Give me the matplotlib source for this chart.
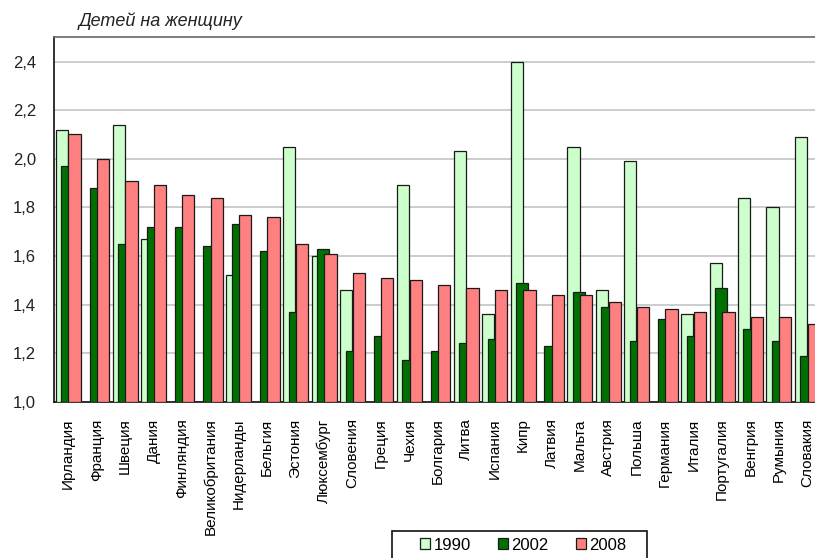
import numpy as np
import matplotlib.pyplot as plt
from matplotlib.patches import Rectangle
from matplotlib.ticker import FuncFormatter

# Total fertility rate, children per woman
countries = ['Ирландия', 'Франция', 'Швеция', 'Дания', 'Финляндия', 'Великобритания',
             'Нидерланды', 'Бельгия', 'Эстония', 'Люксембург', 'Словения', 'Греция',
             'Чехия', 'Болгария', 'Литва', 'Испания', 'Кипр', 'Латвия', 'Мальта',
             'Австрия', 'Польша', 'Германия', 'Италия', 'Португалия', 'Венгрия',
             'Румыния', 'Словакия']
nan = np.nan
tfr_1990 = [2.12, nan, 2.14, 1.67, nan, nan, 1.52, nan, 2.05, 1.60, 1.46, nan,
            1.89, nan, 2.03, 1.36, 2.40, nan, 2.05, 1.46, 1.99, nan, 1.36, 1.57,
            1.84, 1.80, 2.09]
tfr_2002 = [1.97, 1.88, 1.65, 1.72, 1.72, 1.64, 1.73, 1.62, 1.37, 1.63, 1.21, 1.27,
            1.17, 1.21, 1.24, 1.26, 1.49, 1.23, 1.45, 1.39, 1.25, 1.34, 1.27, 1.47,
            1.30, 1.25, 1.19]
tfr_2008 = [2.10, 2.00, 1.91, 1.89, 1.85, 1.84, 1.77, 1.76, 1.65, 1.61, 1.53, 1.51,
            1.50, 1.48, 1.47, 1.46, 1.46, 1.44, 1.44, 1.41, 1.39, 1.38, 1.37, 1.37,
            1.35, 1.35, 1.32]
years = ['1990', '2002', '2008']

plt.rcParams['font.family'] = ['Liberation Sans', 'DejaVu Sans']

fig = plt.figure(figsize=(8.15, 5.58), dpi=100)
ax = fig.add_axes([54 / 815, 156.3 / 558, 767.5 / 815, 364.4 / 558])

x = np.arange(len(countries))
base = 1.0
w = 0.43
series = [(tfr_1990, '#ccffcc', -0.225), (tfr_2002, '#007000', -0.03), (tfr_2008, '#ff8080', 0.225)]
for (vals, col, off), lab in zip(series, years):
    v = np.array(vals, dtype=float)
    ax.bar(x + off, v - base, w, bottom=base, color=col, edgecolor='#1a1a1a',
           linewidth=0.9, label=lab, zorder=3)

ax.set_xlim(-0.5, len(countries) - 0.5)
ax.set_ylim(1.0, 2.5)
ax.set_yticks(np.arange(1.0, 2.41, 0.2))
ax.yaxis.set_major_formatter(FuncFormatter(lambda v, p: f'{v:.1f}'.replace('.', ',')))
ax.tick_params(axis='y', length=0, pad=13, labelsize=12, labelcolor='#222222')
ax.set_xticks(x)
ax.set_xticklabels(countries, rotation=90, ha='center', va='top', fontsize=11)
ax.tick_params(axis='x', length=0, pad=12)
ax.grid(axis='y', color='#c4c4c4', linewidth=1.2, zorder=0)

for s in ['left', 'bottom']:
    ax.spines[s].set_color('#111111')
    ax.spines[s].set_linewidth(1.2)
ax.spines['top'].set_color('#666666')
ax.spines['top'].set_linewidth(1.2)
ax.spines['right'].set_visible(False)

fig.text(79 / 815, 1 - 21 / 558, 'Детей на женщину', fontsize=13, style='italic',
         ha='left', va='center', color='#222222')

# legend box (runs past the bottom edge like in the original)
fig.patches.append(Rectangle((392 / 815, -6 / 558), 255 / 815, 33 / 558,
                             transform=fig.transFigure, facecolor='white',
                             edgecolor='#111111', linewidth=1.2))
leg = fig.legend(loc='center left', bbox_to_anchor=(420 / 815, 1 - 545 / 558), ncol=3,
                 fontsize=12, frameon=False, handlelength=0.6, handleheight=0.6,
                 handletextpad=0.2, columnspacing=1.65, borderpad=0, borderaxespad=0)

fig.savefig('out.png', dpi=100)
